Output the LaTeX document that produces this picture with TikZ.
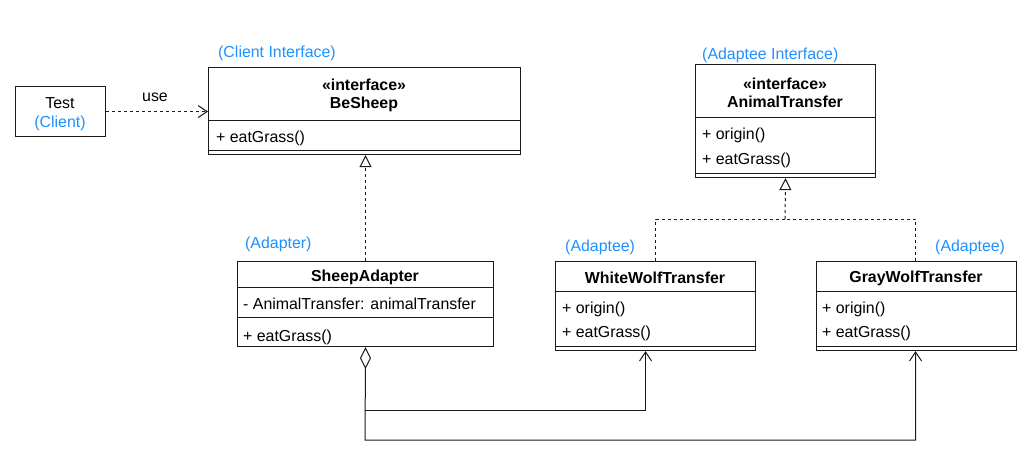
\documentclass[tikz,border=0pt]{standalone}
\usepackage{fontspec}
\setmainfont{Liberation Sans}
\usetikzlibrary{arrows.meta}
\definecolor{lblblue}{HTML}{1E90FF}
\definecolor{strk}{HTML}{1A1A1A}
\begin{document}
\begin{tikzpicture}[x=1pt,y=-1pt,
  box/.style={draw=strk, line width=1.1pt, rectangle, inner sep=0pt, anchor=north west},
  txt/.style={inner sep=0pt, anchor=west, font=\fontsize{15.9}{19}\selectfont},
  ttl/.style={inner sep=0pt, anchor=center, align=center, font=\fontsize{15.9}{18.5}\selectfont\bfseries},
  lbl/.style={txt, text=lblblue},
  conn/.style={draw=strk, line width=1pt},
  dsh/.style={conn, dash pattern=on 3pt off 3pt},
  openarrow/.style={-{Straight Barb[length=9pt,width=12pt]}},
  realize/.style={-{Triangle[open,length=12pt,width=12pt,fill=white]}}
]
\useasboundingbox[fill=white] (0,0) rectangle (1031,474);

% Test (Client)
\node[box, minimum width=90pt, minimum height=50pt] (test) at (15,86) {};
\node[txt, anchor=center, align=center] (testt) at (60,114) {Test\\\textcolor{lblblue}{(Client)}};

% BeSheep
\node[lbl] (lcli) at (218,53) {(Client Interface)};
\node[box, minimum width=312pt, minimum height=53pt] (bsh) at (208,67) {};
\node[ttl] (bst) at (364,95.5) {«interface»\\BeSheep};
\node[box, minimum width=312pt, minimum height=30pt] (bsm) at (208,120) {};
\node[box, minimum width=312pt, minimum height=4pt] (bsb) at (208,150) {};
\node[txt] (bs1) at (216,138.5) {+ eatGrass()};

% AnimalTransfer
\node[lbl] (lada) at (702,55) {(Adaptee Interface)};
\node[box, minimum width=180pt, minimum height=53pt] (ath) at (695,64) {};
\node[ttl] (att) at (785,93) {«interface»\\AnimalTransfer};
\node[box, minimum width=180pt, minimum height=56pt] (atm) at (695,117) {};
\node[box, minimum width=180pt, minimum height=4pt] (atb) at (695,173) {};
\node[txt] (at1) at (702,135.5) {+ origin()};
\node[txt] (at2) at (702,160.5) {+ eatGrass()};

% SheepAdapter
\node[lbl] (ladp) at (245,244) {(Adapter)};
\node[box, minimum width=256pt, minimum height=26pt] (sah) at (237,261) {};
\node[ttl] (sat) at (365,277) {SheepAdapter};
\node[box, minimum width=256pt, minimum height=30pt] (saa) at (237,287) {};
\node[box, minimum width=256pt, minimum height=29pt] (sam) at (237,317) {};
\node[txt] (sa1) at (243,303.5) {- AnimalTransfer: animalTransfer};
\node[txt] (sa2) at (243,337.5) {+ eatGrass()};

% WhiteWolfTransfer
\node[lbl] (lww) at (565,247) {(Adaptee)};
\node[box, minimum width=200pt, minimum height=30pt] (wwh) at (555,261) {};
\node[ttl] (wwt) at (655,278) {WhiteWolfTransfer};
\node[box, minimum width=200pt, minimum height=55pt] (wwm) at (555,291) {};
\node[box, minimum width=200pt, minimum height=4pt] (wwb) at (555,346) {};
\node[txt] (ww1) at (562,309) {+ origin()};
\node[txt] (ww2) at (562,333.5) {+ eatGrass()};

% GrayWolfTransfer
\node[lbl] (lgw) at (935,247) {(Adaptee)};
\node[box, minimum width=200pt, minimum height=30pt] (gwh) at (816,261) {};
\node[ttl] (gwt) at (916,278) {GrayWolfTransfer};
\node[box, minimum width=200pt, minimum height=55pt] (gwm) at (816,291) {};
\node[box, minimum width=200pt, minimum height=4pt] (gwb) at (816,346) {};
\node[txt] (gw1) at (822,309) {+ origin()};
\node[txt] (gw2) at (822,333.5) {+ eatGrass()};

% use dependency
\node[txt, anchor=center] (use) at (155,97) {use};
\draw[dsh, openarrow] (test.east) -- (test.east -| bsh.west);

% realization SheepAdapter -> BeSheep
\draw[dsh, realize] (sah.north) -- (sah.north |- bsb.south);

% realization wolves -> AnimalTransfer
\coordinate (j) at (785,219);
\draw[dsh] (wwh.north) |- (j);
\draw[dsh] ([xshift=-1pt]gwh.north) |- (j);
\draw[dsh, realize] (j) -- (atb.south);

% aggregation
\coordinate (d1) at (365,410);
\coordinate (d2) at (365,440);
\draw[conn, {Diamond[open,length=22pt,width=11pt,fill=white]}-{Straight Barb[length=9pt,width=12pt]}]
  (sam.south) -- (d2) -| ([xshift=-1pt]gwb.south);
\draw[conn, openarrow] (d1) -| ([xshift=-10pt]wwb.south);
\end{tikzpicture}
\end{document}
